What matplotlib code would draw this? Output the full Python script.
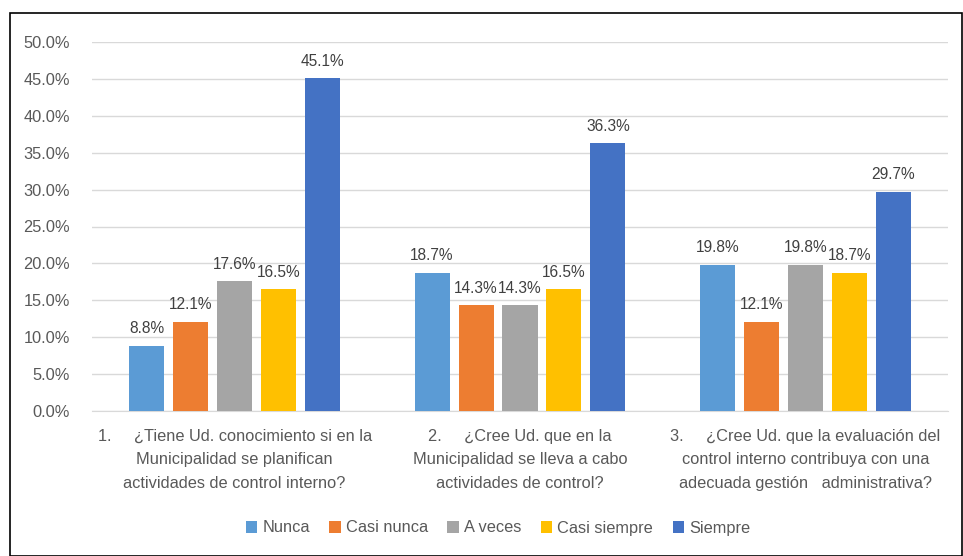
import matplotlib.pyplot as plt
import numpy as np
from matplotlib.patches import Rectangle

categorias = [
    "1.     ¿Tiene Ud. conocimiento si en la\nMunicipalidad se planifican\nactividades de control interno?",
    "2.     ¿Cree Ud. que en la\nMunicipalidad se lleva a cabo\nactividades de control?",
    "3.     ¿Cree Ud. que la evaluación del\ncontrol interno contribuya con una\nadecuada gestión   administrativa?",
]
series = ["Nunca", "Casi nunca", "A veces", "Casi siempre", "Siempre"]
nunca = [8.8, 18.7, 19.8]
casi_nunca = [12.1, 14.3, 12.1]
a_veces = [17.6, 14.3, 19.8]
casi_siempre = [16.5, 16.5, 18.7]
siempre = [45.1, 36.3, 29.7]

valores = [nunca, casi_nunca, a_veces, casi_siempre, siempre]
colores = ["#5B9BD5", "#ED7D31", "#A5A5A5", "#FFC000", "#4472C4"]

plt.rcParams['font.family'] = ['Liberation Sans', 'DejaVu Sans']
gris = "#595959"

fig = plt.figure(figsize=(9.63, 5.56), dpi=100)
ax = fig.add_axes([92 / 963, 1 - 411 / 556, 856 / 963, 369 / 556])

# Borde exterior del gráfico
fig.patches.append(Rectangle((10 / 963, 0), 952 / 963, 1 - 13 / 556,
                             transform=fig.transFigure, fill=False,
                             edgecolor="black", linewidth=1.2))

x = np.arange(len(categorias))
ancho = 0.123
paso = 0.154

for i, (nombre, vals, col) in enumerate(zip(series, valores, colores)):
    pos = x + (i - 2) * paso
    ax.bar(pos, vals, width=ancho, color=col, label=nombre, zorder=3)
    for px, v in zip(pos, vals):
        ax.text(px, v + 1.3, f"{v:.1f}%", ha='center', va='bottom',
                fontsize=11.2, color="#404040")

ax.set_xlim(-0.5, 2.5)
ax.set_ylim(0, 50)
ax.set_yticks(np.arange(0, 50.1, 5))
ax.set_yticklabels([f"{t:.1f}%" for t in np.arange(0, 50.1, 5)],
                   fontsize=11.8, color=gris)
ax.set_xticks(x)
ax.set_xticklabels(categorias, fontsize=11.8, color=gris, linespacing=1.7)
ax.tick_params(axis='both', length=0)
ax.tick_params(axis='x', pad=13)
ax.tick_params(axis='y', pad=16)

ax.grid(axis='y', color="#D9D9D9", linewidth=1, zorder=0)
for s in ['top', 'right', 'left']:
    ax.spines[s].set_visible(False)
ax.spines['bottom'].set_color("#D9D9D9")

fig.legend(loc='center', bbox_to_anchor=(498 / 963, 1 - 528 / 556), ncol=5,
           frameon=False, fontsize=11.8, handlelength=0.7, handleheight=0.7,
           handletextpad=0.3, columnspacing=1.2, labelcolor=gris)

fig.savefig("out.png", dpi=100)
